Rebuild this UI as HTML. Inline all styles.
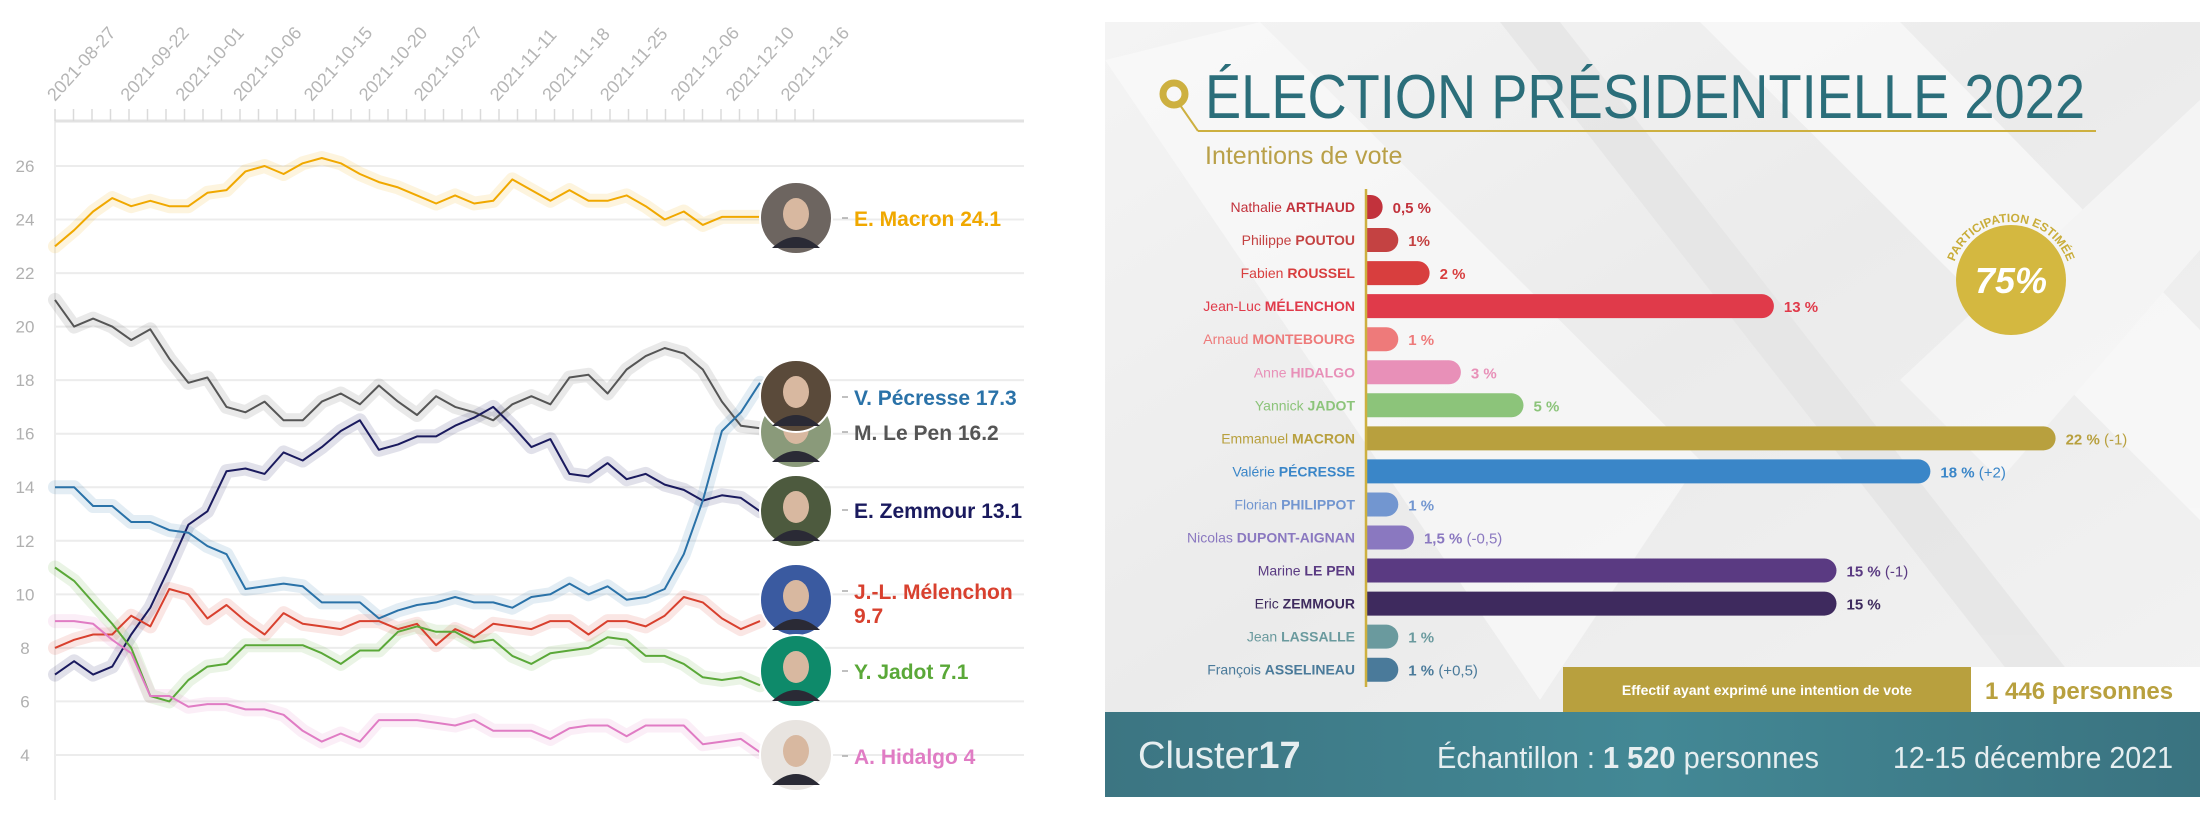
<!DOCTYPE html>
<html><head><meta charset="utf-8"><style>
html,body{margin:0;padding:0;background:#fff;}
svg{display:block;font-family:"Liberation Sans",sans-serif;}
</style></head><body>
<svg id="root" width="2200" height="822" viewBox="0 0 2200 822" xmlns="http://www.w3.org/2000/svg">
<defs>
<linearGradient id="panelBg" x1="0" y1="0" x2="1" y2="1">
<stop offset="0" stop-color="#f4f4f4"/><stop offset="0.5" stop-color="#ebebeb"/><stop offset="1" stop-color="#f2f2f2"/></linearGradient>
<linearGradient id="footBg" x1="0" y1="0" x2="1" y2="0">
<stop offset="0" stop-color="#3c7582"/><stop offset="0.5" stop-color="#438895"/><stop offset="1" stop-color="#3a7380"/></linearGradient>
<clipPath id="panelClip"><rect x="1105" y="22" width="1095" height="690"/></clipPath>
<path id="arcP" d="M1951,282 A60,60 0 0 1 2071,282"/>
</defs>
<g id="left-chart"></g>
<g id="right-panel">
<rect x="1105" y="22" width="1095" height="690" fill="url(#panelBg)"/>
<g clip-path="url(#panelClip)" opacity="0.7">
<polygon points="1105,60 1260,22 1700,460 1540,700" fill="#fafafa"/>
<polygon points="1700,22 1900,22 2200,330 2200,520" fill="#fbfbfb"/>
<polygon points="1500,22 1560,22 2100,712 2040,712" fill="#e4e4e4"/>
<polygon points="1900,380 2200,100 2200,250 2000,480" fill="#f8f8f8"/>
</g>
<circle cx="1174" cy="94" r="11" fill="none" stroke="#cdb040" stroke-width="7"/>
<line x1="1180" y1="105" x2="1198" y2="131" stroke="#cdb040" stroke-width="2"/>
<line x1="1198" y1="131" x2="2096" y2="131" stroke="#cdb040" stroke-width="2"/>
<text x="1205" y="118" font-size="62" fill="#2b6e7a" textLength="880" lengthAdjust="spacingAndGlyphs">ÉLECTION PRÉSIDENTIELLE 2022</text>
<text x="1205" y="164" font-size="25" fill="#b9a048">Intentions de vote</text>
<g id="bars"></g>
<line x1="1366" y1="189" x2="1366" y2="687" stroke="#cdb040" stroke-width="2.5"/>
<g>
<circle cx="2011" cy="280" r="55" fill="#d4b840"/>
<text x="2011" y="293" font-size="36" font-weight="bold" fill="#fff" text-anchor="middle" font-style="italic">75%</text>
<text font-size="12" font-weight="bold" fill="#c9ad3a"><textPath href="#arcP" startOffset="50%" text-anchor="middle">PARTICIPATION ESTIMÉE</textPath></text>
</g>
<rect x="1563" y="667" width="408" height="45" fill="#b8a03e"/>
<text x="1767" y="695" font-size="14" font-weight="bold" fill="#fff" text-anchor="middle">Effectif ayant exprimé une intention de vote</text>
<rect x="1971" y="667" width="229" height="45" fill="#fff"/>
<text x="1985" y="699" font-size="24" font-weight="bold" fill="#b8a03e">1 446 personnes</text>
<rect x="1105" y="712" width="1095" height="85" fill="url(#footBg)"/>
<text x="1138" y="768" font-size="38" fill="#e6eef0">Cluster<tspan font-weight="bold">17</tspan></text>
<text x="1437" y="768" font-size="31" fill="#e6eef0" textLength="382" lengthAdjust="spacingAndGlyphs">Échantillon : <tspan font-weight="bold">1 520</tspan> personnes</text>
<text x="1893" y="768" font-size="31" fill="#e6eef0" textLength="280" lengthAdjust="spacingAndGlyphs">12-15 décembre 2021</text>
</g>
</svg>
<script>
// ---- Line chart data ----
const dateLabels = ["2021-08-27","2021-09-22","2021-10-01","2021-10-06","2021-10-15","2021-10-20","2021-10-27","2021-11-11","2021-11-18","2021-11-25","2021-12-06","2021-12-10","2021-12-16"];
const dateLabelPos = [0,2.8,4.9,7.1,9.8,11.9,14.0,16.9,18.9,21.1,23.8,25.9,28];
const yTicks = [4,6,8,10,12,14,16,18,20,22,24,26];
const macron = [23,23.6,24.3,24.8,24.5,24.7,24.5,24.5,25,25.1,25.8,26,25.7,26.1,26.3,26.1,25.7,25.4,25.2,24.9,24.6,24.9,24.6,24.7,25.5,25.1,24.7,25.1,24.7,24.7,24.9,24.5,24,24.3,23.8,24.1,24.1,24.1];
const lepen = [21,20,20.3,20,19.5,19.9,18.8,17.9,18.1,17,16.8,17.2,16.5,16.5,17.2,17.5,17.1,17.8,17.2,16.7,17.4,17,16.8,16.5,17.1,17.4,17.1,18.1,18.2,17.5,18.4,18.9,19.2,19,18.4,17.2,16.3,16.2];
const zemmour = [7,7.5,7,7.3,8.5,9.5,11,12.6,13.1,14.6,14.7,14.5,15.3,15,15.5,16.1,16.5,15.4,15.6,15.9,15.9,16.3,16.6,17,16.3,15.5,15.8,14.5,14.4,14.9,14.3,14.5,14.1,13.9,13.5,13.7,13.6,13.1];
const pecresse = [14,14,13.3,13.3,12.7,12.7,12.4,12.3,11.8,11.5,10.2,10.3,10.4,10.3,9.7,9.7,9.7,9.1,9.4,9.6,9.7,9.9,9.7,9.7,9.5,9.9,10,10.4,10,10.3,9.8,9.9,10.2,11.5,13.5,16.1,16.8,17.9];
const melenchon = [8,8.3,8.5,8.5,9.2,8.8,10.2,10,9.1,9.6,9,8.5,9.3,8.9,8.8,8.7,9,9,8.7,8.9,8.1,8.7,8.4,8.9,8.8,8.7,9,9,8.5,9,9,8.8,9.2,9.9,9.7,9.1,8.7,9];
const jadot = [11,10.5,9.7,8.9,8,6.2,6,6.8,7.3,7.4,8.1,8.1,8.1,8.1,7.8,7.4,7.9,7.9,8.6,8.8,8.6,8.6,8.2,8.3,7.7,7.4,7.8,7.9,8,8.4,8.3,7.7,7.7,7.4,6.9,6.8,6.9,6.6];
const hidalgo = [9,9,8.9,8.3,7.8,6.2,6.2,5.8,5.9,5.9,5.7,5.7,5.5,4.9,4.5,4.8,4.5,5.3,5.3,5.3,5.2,5.1,5.3,4.9,4.9,4.9,4.6,5,5.1,5.1,4.7,5.1,5.1,5.1,4.4,4.5,4.6,4.1];
const seriesNames = ["E. Macron 24.1","M. Le Pen 16.2","E. Zemmour 13.1","V. Pécresse 17.3","J.-L. Mélenchon 9.7","Y. Jadot 7.1","A. Hidalgo 4"];
const seriesColors = ["#f0a800","#555555","#1a1a5e","#2a72a8","#d8402e","#5aa838","#e07cc4"];
const labelY = [218,432,510,397,591,671,756];
const photoY = [218,432,511,396,600,671,755];
const photoFill = ["#6d6560","#8a9a7a","#4d5a3e","#5a4a3a","#3a5aa0","#0e8a6a","#e8e4e0"];

const NS="http://www.w3.org/2000/svg";
function mk(tag,attrs,parent){const e=document.createElementNS(NS,tag);for(const k in attrs)e.setAttribute(k,attrs[k]);parent.appendChild(e);return e;}
const X0=55,X1=760,Y26=166,PX=26.77;
const yScale=v=>Y26+(26-v)*PX;
const xIdx=i=>X0+i*(X1-X0)/(macron.length-1);
const L=document.getElementById('left-chart');

yTicks.forEach(t=>{
  const g=mk('line',{x1:X0,x2:1024,y1:yScale(t),y2:yScale(t),stroke:'#ececec','stroke-width':2},L);
  
  
  const tx=mk('text',{x:25,y:yScale(t)+6,'font-size':17,fill:'#b0b0b0','text-anchor':'middle'},L);
  tx.textContent=t;
  
  
});
const ya=mk('line',{x1:X0,x2:X0,y1:121,y2:800,stroke:'#ececec','stroke-width':2},L);


const xa=mk('line',{x1:X0,x2:1024,y1:121,y2:121,stroke:'#e2e2e2','stroke-width':3},L);


for(let i=0;i<=41;i++){const x=X0+i*18.5;if(x>815)break;mk('line',{x1:x,x2:x,y1:109,y2:121,stroke:'#dadada','stroke-width':1.5},L);}
dateLabels.forEach((d,i)=>{
  const x=X0+dateLabelPos[i]*26.2, y=102;
  const t=mk('text',{x:x,y:y,'font-size':18,fill:'#b5b5b5',transform:`rotate(-48 ${x} ${y})`},L);
  t.textContent=d;
  
  
});
const allSeries=[macron,lepen,zemmour,pecresse,melenchon,jadot,hidalgo];
allSeries.forEach((s,k)=>{
  const pts=s.map((v,i)=>xIdx(i).toFixed(1)+','+yScale(v).toFixed(1)).join(' ');
  const h=mk('polyline',{points:pts,fill:'none',stroke:seriesColors[k],'stroke-opacity':0.13,'stroke-width':14,'stroke-linejoin':'round','stroke-linecap':'round'},L);
  
  
});
allSeries.forEach((s,k)=>{
  const pts=s.map((v,i)=>xIdx(i).toFixed(1)+','+yScale(v).toFixed(1)).join(' ');
  const p=mk('polyline',{points:pts,fill:'none',stroke:seriesColors[k],'stroke-width':2,'stroke-linejoin':'round'},L);
  
  
});
[1,0,2,3,4,5,6].forEach(k=>{
  const c=mk('circle',{cx:796,cy:photoY[k],r:36,fill:photoFill[k],stroke:'#fff','stroke-width':2},L);
  
  
  mk('ellipse',{cx:796,cy:photoY[k]-4,rx:13,ry:16,fill:'#d8b8a0'},L);
  mk('path',{d:`M772,${photoY[k]+30} Q796,${photoY[k]+8} 820,${photoY[k]+30}`,fill:'#2a2a35'},L);
});
seriesNames.forEach((n,k)=>{
  mk('line',{x1:842,x2:848,y1:labelY[k],y2:labelY[k],stroke:'#aaa','stroke-width':1.5},L);
  const t=mk('text',{x:854,y:labelY[k]+8,'font-size':21,'font-weight':'bold',fill:seriesColors[k]},L);
  
  
  if(k===4){t.textContent='J.-L. Mélenchon';const t2=mk('text',{x:854,y:labelY[k]+32,'font-size':21,'font-weight':'bold',fill:seriesColors[k]},L);t2.textContent='9.7';}
  else t.textContent=n;
});

// ---- Bar chart data ----
const firstNames=["Nathalie","Philippe","Fabien","Jean-Luc","Arnaud","Anne","Yannick","Emmanuel","Valérie","Florian","Nicolas","Marine","Eric","Jean","François"];
const lastNames=["ARTHAUD","POUTOU","ROUSSEL","MÉLENCHON","MONTEBOURG","HIDALGO","JADOT","MACRON","PÉCRESSE","PHILIPPOT","DUPONT-AIGNAN","LE PEN","ZEMMOUR","LASSALLE","ASSELINEAU"];
const pctValues=[0.5,1,2,13,1,3,5,22,18,1,1.5,15,15,1,1];
const pctLabels=["0,5 %","1%","2 %","13 %","1 %","3 %","5 %","22 %","18 %","1 %","1,5 %","15 %","15 %","1 %","1 %"];
const deltas=["","","","","","","","(-1)","(+2)","","(-0,5)","(-1)","","","(+0,5)"];
const barColors=["#c2323c","#c44242","#d83e3e","#e03a4a","#ee7a7a","#e890b8","#8cc47a","#b8a03e","#3a86c8","#7296d0","#8a78c0","#5a3a82","#3e2a5e","#6a9a9e","#4a7a9a"];
const B=document.getElementById('bars');
const BX=1367,PPX=31.3,ROW0=207,STEP=33.05;
pctValues.forEach((v,i)=>{
  const y=ROW0+i*STEP, w=Math.max(v*PPX,14), r=12;
  const x1=BX+w;
  const p=mk('path',{d:`M${BX},${y-r} H${x1-r} A${r},${r} 0 0 1 ${x1-r},${y+r} H${BX} Z`,fill:barColors[i]},B);
  
  
  const lb=mk('text',{x:1355,y:y+5,'font-size':14,fill:barColors[i],'text-anchor':'end'},B);
  lb.innerHTML=firstNames[i]+' <tspan font-weight="bold">'+lastNames[i]+'</tspan>';
  
  
  const vt=mk('text',{x:x1+10,y:y+6,'font-size':15,'font-weight':'bold',fill:barColors[i]},B);
  vt.innerHTML=pctLabels[i]+(deltas[i]?' <tspan font-weight="normal">'+deltas[i]+'</tspan>':'');
  
  
});
</script>
</body></html>
